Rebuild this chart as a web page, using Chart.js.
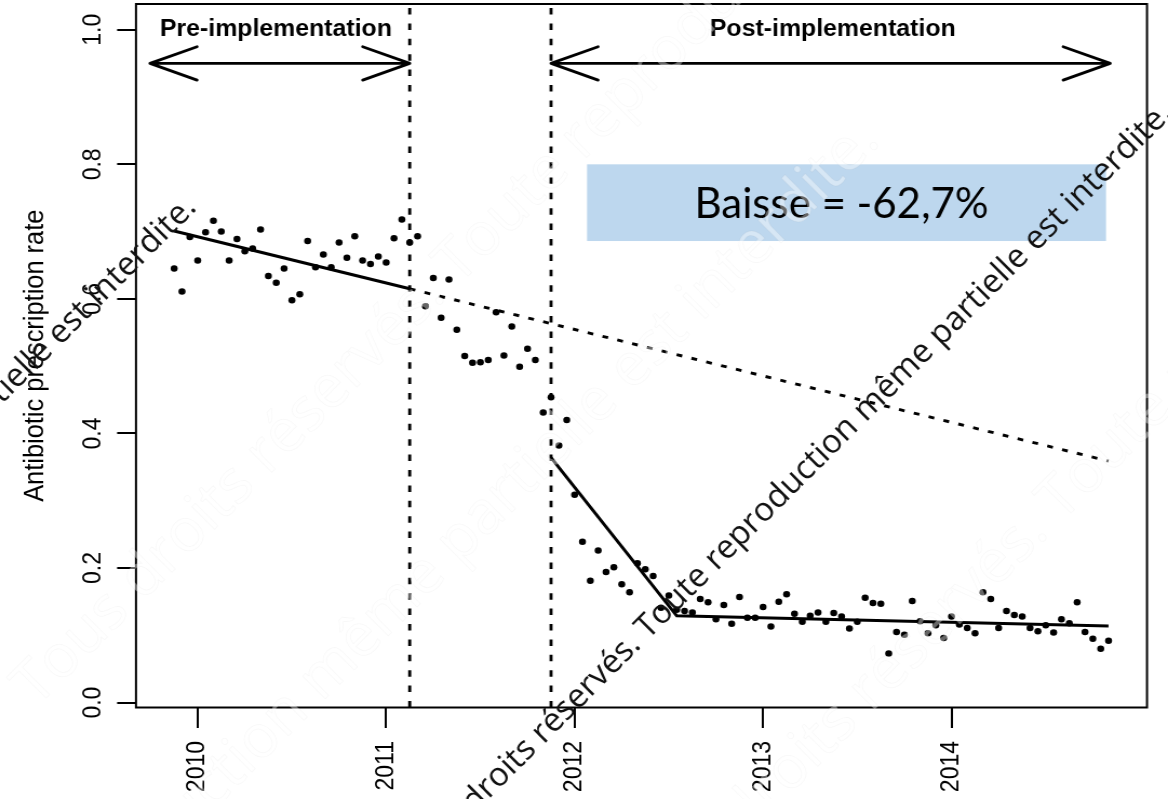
<!DOCTYPE html>
<html>
<head>
<meta charset="utf-8">
<title>Antibiotic prescription rate</title>
<script src="https://cdn.jsdelivr.net/npm/chart.js@4.4.1/dist/chart.umd.min.js"></script>
<style>
  html, body { margin: 0; padding: 0; background: #ffffff; }
  #plot { display: block; }
</style>
</head>
<body>
<!-- the plot is rendered on a slightly narrower canvas and shown at full page width -->
<canvas id="plot" width="1081" height="799" style="width:1168px;height:799px"></canvas>
<script>
// ---- data -----------------------------------------------------------------
// Semi-monthly antibiotic prescription rate, starting mid-November 2009
const firstPeriod = 2009.875;
const periodsPerYear = 24;
const prescriptionRate = [
  0.645, 0.611, 0.692, 0.657, 0.699, 0.716, 0.700, 0.657, 0.689, 0.671, 0.675, 0.703,
  0.634, 0.624, 0.645, 0.598, 0.607, 0.686, 0.647, 0.666, 0.647, 0.684, 0.661, 0.693,
  0.657, 0.652, 0.663, 0.654, 0.690, 0.718, 0.684, 0.693, 0.589, 0.631, 0.572, 0.629,
  0.554, 0.515, 0.505, 0.506, 0.509, 0.580, 0.516, 0.559, 0.499, 0.526, 0.509, 0.431,
  0.454, 0.382, 0.420, 0.309, 0.239, 0.181, 0.226, 0.194, 0.201, 0.176, 0.164, 0.207,
  0.198, 0.188, 0.141, 0.159, 0.138, 0.136, 0.134, 0.154, 0.149, 0.124, 0.145, 0.117,
  0.157, 0.126, 0.126, 0.142, 0.113, 0.150, 0.161, 0.132, 0.120, 0.129, 0.134, 0.120,
  0.133, 0.128, 0.110, 0.120, 0.156, 0.148, 0.147, 0.073, 0.105, 0.101, 0.151, 0.121,
  0.103, 0.115, 0.096, 0.128, 0.116, 0.111, 0.103, 0.164, 0.154, 0.111, 0.136, 0.130,
  0.128, 0.111, 0.106, 0.115, 0.104, 0.124, 0.118, 0.149, 0.105, 0.095, 0.080, 0.092
];

// axis ticks
const yearTicks  = [2010, 2011, 2012, 2013, 2014];
const yearLabels = ['2010', '2011', '2012', '2013', '2014'];
const rateTicks  = [0, 0.2, 0.4, 0.6, 0.8, 1.0];
const rateLabels = ['0.0', '0.2', '0.4', '0.6', '0.8', '1.0'];

// segmented regression
const preTrendX = [2009.875, 2011.125];
const preTrendY = [0.701, 0.615];
const counterfactualX = [2011.125, 2014.833];
const counterfactualY = [0.615, 0.359];
const postTrendX = [2011.875, 2012.542, 2014.833];
const postTrendY = [0.364, 0.129, 0.114];

// start and end of the implementation phase
const interventionDates = [2011.125, 2011.875];

// period annotations
const periodNames  = ['Pre-implementation', 'Post-implementation'];
const periodArrowX = [[2009.747, 2011.125], [2011.875, 2014.842]];
const periodLabelX = [2010.415, 2013.370];
const periodArrowY = 0.95;
const periodLabelY = 1.0;

// reduction call-out
const reductionText = 'Baisse = -62,7%';
const reductionBoxX = [2012.066, 2014.820];
const reductionBoxY = [0.686, 0.800];

// copyright notice
const notice = 'Tous droits réservés. Toute reproduction même partielle est interdite.';

// ---- rendering --------------------------------------------------------------
const PAGE_W = 1168;
const CANVAS_W = 1081;
const STRETCH = PAGE_W / CANVAS_W;
const SANS = "'Liberation Sans', Arial, Helvetica, sans-serif";

Chart.defaults.font.family = SANS;
Chart.defaults.color = '#000';

const periods = prescriptionRate.map((_, i) => firstPeriod + i / periodsPerYear);
const toXY = (xs, ys) => xs.map((v, i) => ({ x: v, y: ys[i] }));

const notes = {
  id: 'notes',
  afterDatasetsDraw(chart) {
    const { ctx, chartArea: a, scales: { x, y } } = chart;
    ctx.save();
    ctx.strokeStyle = '#000';
    ctx.fillStyle = '#000';

    // dotted verticals at the start and end of implementation
    ctx.lineWidth = 2.8;
    ctx.setLineDash([6.5, 8.9]);
    interventionDates.forEach(t => {
      const px = x.getPixelForValue(t);
      ctx.beginPath();
      ctx.moveTo(px, a.bottom);
      ctx.lineTo(px, a.top);
      ctx.stroke();
    });
    ctx.setLineDash([]);

    // plot frame
    ctx.lineWidth = 2;
    ctx.strokeRect(a.left, a.top, a.right - a.left, a.bottom - a.top);

    // double-headed period arrows
    const headBack = 43.5, headHalf = 16.7;
    ctx.lineWidth = 2.8;
    ctx.lineCap = 'round';
    ctx.lineJoin = 'round';
    const py = y.getPixelForValue(periodArrowY);
    periodArrowX.forEach(([t0, t1]) => {
      const p0 = x.getPixelForValue(t0), p1 = x.getPixelForValue(t1);
      ctx.beginPath();
      ctx.moveTo(p0, py); ctx.lineTo(p1, py);
      ctx.moveTo(p0 + headBack, py - headHalf); ctx.lineTo(p0, py); ctx.lineTo(p0 + headBack, py + headHalf);
      ctx.moveTo(p1 - headBack, py - headHalf); ctx.lineTo(p1, py); ctx.lineTo(p1 - headBack, py + headHalf);
      ctx.stroke();
    });

    ctx.font = 'bold 23px ' + SANS;
    ctx.textAlign = 'center';
    ctx.textBaseline = 'middle';
    periodNames.forEach((name, k) => {
      ctx.fillText(name, x.getPixelForValue(periodLabelX[k]), y.getPixelForValue(periodLabelY));
    });

    // reduction call-out box
    const bx0 = x.getPixelForValue(reductionBoxX[0]);
    const bx1 = x.getPixelForValue(reductionBoxX[1]);
    const by0 = y.getPixelForValue(reductionBoxY[1]);
    const by1 = y.getPixelForValue(reductionBoxY[0]);
    ctx.fillStyle = 'rgb(189, 215, 238)';
    ctx.fillRect(bx0, by0, bx1 - bx0, by1 - by0);

    // call-out text is laid out at page scale
    ctx.setTransform(1 / STRETCH, 0, 0, 1, 0, 0);
    const size = 42;
    ctx.font = size + "px Lato, 'Open Sans', sans-serif";
    ctx.fillStyle = '#000';
    ctx.textAlign = 'center';
    ctx.textBaseline = 'alphabetic';
    const cx = (bx0 + bx1) / 2 * STRETCH - 5;
    const cy = (by0 + by1) / 2 + size * 0.358;
    ctx.fillText(reductionText, cx, cy);
    ctx.restore();
  },
  afterDraw(chart) {
    const { ctx } = chart;
    ctx.save();
    ctx.setTransform(1 / STRETCH, 0, 0, 1, 0, 0);
    const angle = -Math.PI / 4;

    // faint background repeats of the notice
    ctx.font = "60px 'Open Sans', sans-serif";
    ctx.textAlign = 'left';
    ctx.textBaseline = 'middle';
    ctx.lineWidth = 1;
    ctx.strokeStyle = 'rgba(0, 0, 0, 0.028)';
    ctx.fillStyle = 'rgba(255, 255, 255, 0.4)';
    [[24, 696], [-508, 1508], [627, 933]].forEach(([px, py]) => {
      ctx.save();
      ctx.translate(px, py);
      ctx.rotate(angle);
      ctx.fillText(notice, 0, 0);
      ctx.strokeText(notice, 0, 0);
      ctx.restore();
    });

    // dark copies of the notice
    ctx.font = "33px 'Open Sans', sans-serif";
    ctx.textAlign = 'right';
    ctx.fillStyle = '#111';
    [[1167, 108], [191, 202]].forEach(([px, py]) => {
      ctx.save();
      ctx.translate(px, py);
      ctx.rotate(angle);
      ctx.fillText(notice, 0, 0);
      ctx.restore();
    });
    ctx.restore();
  }
};

const tickGrid = (len) => ({
  display: true,
  drawOnChartArea: false,
  drawTicks: true,
  tickLength: len,
  tickWidth: 2,
  lineWidth: 2,
  color: '#000',
  tickColor: '#000'
});

new Chart(document.getElementById('plot'), {
  type: 'scatter',
  data: {
    datasets: [
      {
        label: 'Pre-implementation trend',
        type: 'line',
        data: toXY(preTrendX, preTrendY),
        borderColor: '#000', borderWidth: 3, pointRadius: 0, tension: 0, fill: false
      },
      {
        label: 'Expected without implementation',
        type: 'line',
        data: toXY(counterfactualX, counterfactualY),
        borderColor: '#000', borderWidth: 2.9, borderDash: [5.4, 8.8],
        pointRadius: 0, tension: 0, fill: false
      },
      {
        label: 'Post-implementation trend',
        type: 'line',
        data: toXY(postTrendX, postTrendY),
        borderColor: '#000', borderWidth: 3, pointRadius: 0, tension: 0, fill: false
      },
      {
        label: 'Antibiotic prescription rate',
        data: toXY(periods, prescriptionRate),
        showLine: false,
        pointRadius: 3.25,
        pointBorderWidth: 0,
        pointBackgroundColor: '#000',
        pointBorderColor: '#000'
      }
    ]
  },
  options: {
    responsive: false,
    devicePixelRatio: 1,
    animation: false,
    events: [],
    layout: { padding: { left: 0, top: 3.5, right: CANVAS_W - 1147 / STRETCH, bottom: 0 } },
    plugins: {
      legend: { display: false },
      tooltip: { enabled: false }
    },
    scales: {
      x: {
        type: 'linear',
        min: 2009.6726,
        max: 2015.0374,
        afterBuildTicks: s => { s.ticks = yearTicks.map(v => ({ value: v })); },
        afterFit: s => { s.height = 91.5; s.paddingLeft = 0; s.paddingRight = 0; },
        border: { display: false },
        grid: tickGrid(20.5),
        ticks: {
          autoSkip: false,
          minRotation: 90,
          maxRotation: 90,
          padding: 13,
          color: '#000',
          font: { size: 23 },
          callback: (v, i) => yearLabels[i]
        }
      },
      y: {
        type: 'linear',
        min: -0.0073,
        max: 1.0383,
        afterBuildTicks: s => { s.ticks = rateTicks.map(v => ({ value: v })); },
        afterFit: s => { s.width = 136 / STRETCH; s.paddingTop = 0; s.paddingBottom = 0; },
        border: { display: false },
        grid: tickGrid(17.5),
        ticks: {
          autoSkip: false,
          minRotation: 90,
          maxRotation: 90,
          crossAlign: 'center',
          padding: 5.6,
          color: '#000',
          font: { size: 23 },
          callback: (v, i) => rateLabels[i]
        },
        title: {
          display: true,
          text: 'Antibiotic prescription rate',
          color: '#000',
          font: { size: 25.4 },
          padding: { top: 18, bottom: 0 }
        }
      }
    }
  },
  plugins: [notes]
});
</script>
</body>
</html>
